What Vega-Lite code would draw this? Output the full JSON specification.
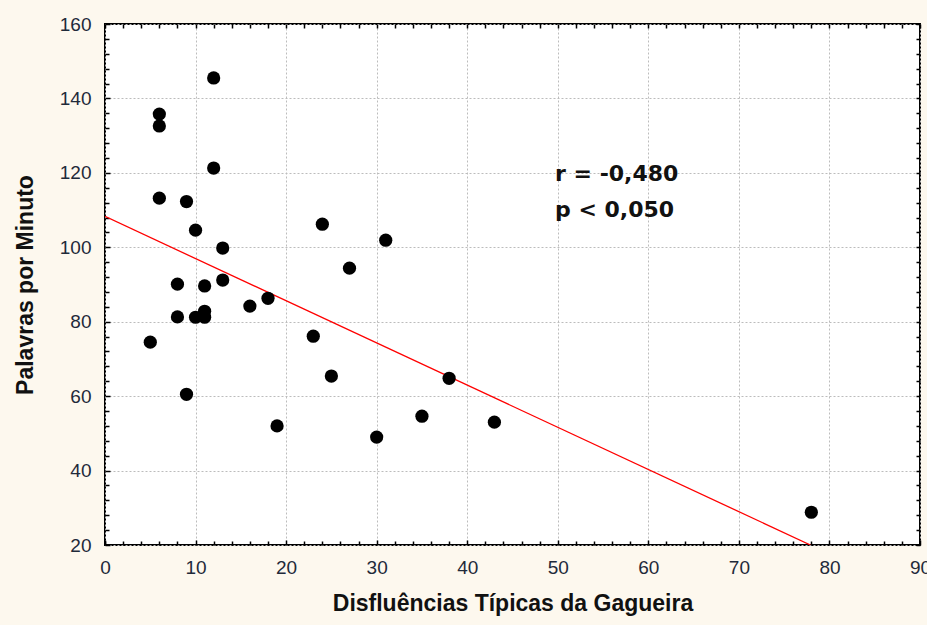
{
  "$schema": "https://vega.github.io/schema/vega-lite/v6.json",
  "width": 815,
  "height": 521,
  "autosize": {"type": "none"},
  "padding": {"left": 105, "top": 24, "right": 7, "bottom": 80},
  "background": "#fdf8ee",
  "config": {
    "view": {"fill": "white", "stroke": "black", "strokeWidth": 2},
    "font": "Liberation Sans",
    "axis": {"labelFont": "Liberation Sans", "titleFont": "Liberation Sans"}
  },
  "datasets": {
    "points": [
      {"dysfluency": 5, "wpm": 74.5},
      {"dysfluency": 6, "wpm": 135.8},
      {"dysfluency": 6, "wpm": 132.6},
      {"dysfluency": 6, "wpm": 113.2},
      {"dysfluency": 8, "wpm": 90.1},
      {"dysfluency": 8, "wpm": 81.3},
      {"dysfluency": 9, "wpm": 112.3},
      {"dysfluency": 9, "wpm": 60.5},
      {"dysfluency": 10, "wpm": 104.6},
      {"dysfluency": 10, "wpm": 81.2},
      {"dysfluency": 11, "wpm": 89.6},
      {"dysfluency": 11, "wpm": 82.8},
      {"dysfluency": 11, "wpm": 81.2},
      {"dysfluency": 12, "wpm": 145.5},
      {"dysfluency": 12, "wpm": 121.3},
      {"dysfluency": 13, "wpm": 99.8},
      {"dysfluency": 13, "wpm": 91.2},
      {"dysfluency": 16, "wpm": 84.2},
      {"dysfluency": 18, "wpm": 86.3},
      {"dysfluency": 19, "wpm": 52},
      {"dysfluency": 23, "wpm": 76.1},
      {"dysfluency": 24, "wpm": 106.2},
      {"dysfluency": 25, "wpm": 65.4},
      {"dysfluency": 27, "wpm": 94.4},
      {"dysfluency": 30, "wpm": 49},
      {"dysfluency": 31, "wpm": 101.9},
      {"dysfluency": 35, "wpm": 54.6},
      {"dysfluency": 38, "wpm": 64.8},
      {"dysfluency": 43, "wpm": 53},
      {"dysfluency": 78, "wpm": 28.8}
    ],
    "fit": [
      {"dysfluency": 0, "wpm": 108.3},
      {"dysfluency": 77.9, "wpm": 20}
    ],
    "notes": [
      {"dysfluency": 49.7, "wpm": 117.8, "label": "r = -0,480"},
      {"dysfluency": 49.7, "wpm": 108.1, "label": "p < 0,050"}
    ]
  },
  "layer": [
    {
      "data": {"name": "fit"},
      "mark": {"type": "line", "color": "#ff0000", "strokeWidth": 1.3, "clip": true},
      "encoding": {
        "x": {
          "field": "dysfluency", "type": "quantitative",
          "scale": {"domain": [0, 90], "nice": false, "zero": false},
          "axis": {
            "orient": "bottom",
            "values": [0, 2, 4, 6, 8, 12, 14, 16, 18, 22, 24, 26, 28, 32, 34, 36, 38, 42, 44, 46, 48, 52, 54, 56, 58, 62, 64, 66, 68, 72, 74, 76, 78, 82, 84, 86, 88],
            "labels": false, "grid": false, "domain": false, "title": null,
            "tickSize": -4, "tickColor": "black", "tickWidth": 1.5
          }
        },
        "y": {
          "field": "wpm", "type": "quantitative",
          "scale": {"domain": [20, 160], "nice": false, "zero": false},
          "axis": {
            "orient": "left",
            "values": [24, 28, 32, 36, 44, 48, 52, 56, 64, 68, 72, 76, 84, 88, 92, 96, 104, 108, 112, 116, 124, 128, 132, 136, 144, 148, 152, 156],
            "labels": false, "grid": false, "domain": false, "title": null,
            "tickSize": -4, "tickColor": "black", "tickWidth": 1.5
          }
        }
      }
    },
    {
      "data": {"name": "points"},
      "mark": {"type": "circle", "color": "black", "opacity": 1, "size": 175},
      "encoding": {
        "x": {
          "field": "dysfluency", "type": "quantitative",
          "axis": {
            "orient": "bottom",
            "values": [0, 10, 20, 30, 40, 50, 60, 70, 80, 90],
            "grid": true, "gridDash": [2, 2], "gridColor": "#bcbcbc", "gridWidth": 1,
            "domain": false,
            "tickSize": -5, "tickColor": "black", "tickWidth": 1.5,
            "labelFontSize": 19, "labelColor": "#1f2a3a", "labelPadding": 18,
            "labelFlush": false,
            "title": "Disfluências Típicas da Gagueira",
            "titleFontSize": 23, "titleFontWeight": "bold", "titleColor": "#111",
            "titlePadding": 15
          }
        },
        "y": {
          "field": "wpm", "type": "quantitative",
          "axis": {
            "orient": "left",
            "values": [20, 40, 60, 80, 100, 120, 140, 160],
            "grid": true, "gridDash": [2, 2], "gridColor": "#bcbcbc", "gridWidth": 1,
            "domain": false,
            "tickSize": -5, "tickColor": "black", "tickWidth": 1.5,
            "labelFontSize": 19, "labelColor": "#1f2a3a", "labelPadding": 19,
            "labelFlush": false,
            "title": "Palavras por Minuto",
            "titleFontSize": 23, "titleFontWeight": "bold", "titleColor": "#111",
            "titlePadding": 22
          }
        }
      }
    },
    {
      "data": {"name": "notes"},
      "mark": {"type": "text", "align": "left", "baseline": "alphabetic", "font": "DejaVu Sans", "fontWeight": "bold", "fontSize": 22, "color": "#111"},
      "encoding": {
        "x": {
          "field": "dysfluency", "type": "quantitative",
          "axis": {
            "orient": "top",
            "values": [0, 2, 4, 6, 8, 10, 12, 14, 16, 18, 20, 22, 24, 26, 28, 30, 32, 34, 36, 38, 40, 42, 44, 46, 48, 50, 52, 54, 56, 58, 60, 62, 64, 66, 68, 70, 72, 74, 76, 78, 80, 82, 84, 86, 88, 90],
            "labels": false, "grid": false, "domain": false, "title": null,
            "tickSize": -4, "tickColor": "black", "tickWidth": 1.5
          }
        },
        "y": {
          "field": "wpm", "type": "quantitative",
          "axis": {
            "orient": "right",
            "values": [20, 24, 28, 32, 36, 40, 44, 48, 52, 56, 60, 64, 68, 72, 76, 80, 84, 88, 92, 96, 100, 104, 108, 112, 116, 120, 124, 128, 132, 136, 140, 144, 148, 152, 156, 160],
            "labels": false, "grid": false, "domain": false, "title": null,
            "tickSize": -4, "tickColor": "black", "tickWidth": 1.5
          }
        },
        "text": {"field": "label", "type": "nominal"}
      }
    }
  ],
  "resolve": {"axis": {"x": "independent", "y": "independent"}}
}
